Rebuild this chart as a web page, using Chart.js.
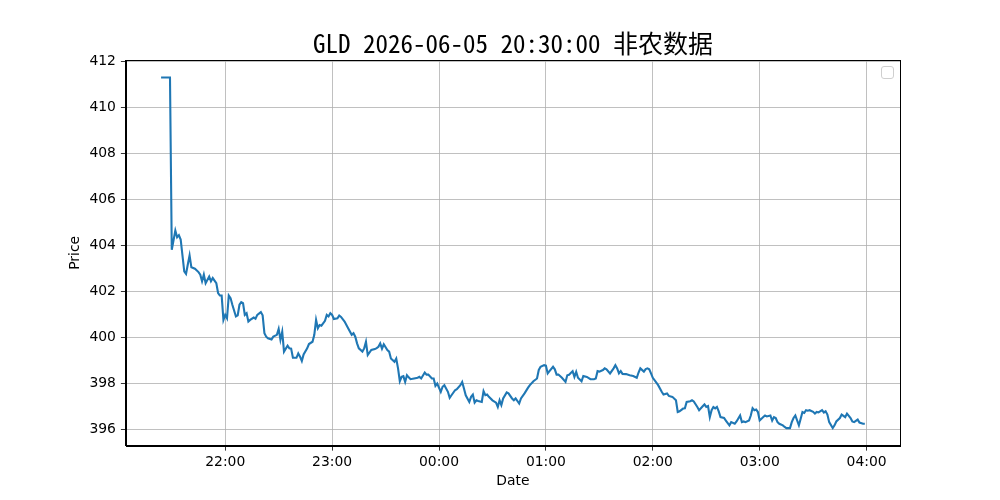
<!DOCTYPE html>
<html>
<head>
<meta charset="utf-8">
<title>GLD 非农数据</title>
<script src="https://cdn.jsdelivr.net/npm/chart.js@4.4.1/dist/chart.umd.min.js"></script>
<style>
  body { margin: 0; background: #fff; }
  #wrap { width: 1000px; height: 500px; }
</style>
</head>
<body>
<div id="wrap"><canvas id="priceChart" width="1000" height="500"></canvas></div>
<script>
const chartTitle = "GLD 2026-06-05 20:30:00 非农数据";

// minute bars (21:24 -> 03:59)
const times = [
  "21:24","21:29","21:30","21:32","21:33","21:34","21:35","21:37","21:38","21:39","21:40","21:41","21:43","21:45","21:46","21:47","21:48","21:49","21:51","21:52","21:53","21:55","21:56","21:57","21:58","21:59",
  "22:00","22:01","22:02","22:03","22:04","22:06","22:07","22:08","22:09","22:10","22:11","22:12","22:13","22:14","22:16","22:17","22:18","22:20","22:21","22:22","22:23","22:24","22:26","22:27","22:29",
  "22:30","22:31","22:32","22:33","22:35","22:36","22:37","22:38","22:40","22:41","22:42","22:43","22:44","22:46","22:47","22:49","22:50","22:51","22:52","22:53","22:54","22:56","22:57","22:58","22:59",
  "23:00","23:01","23:03","23:04","23:05","23:07","23:09","23:11","23:12","23:13","23:14","23:15","23:17","23:18","23:19","23:20","23:22","23:24","23:25","23:26","23:27","23:28","23:29",
  "23:31","23:32","23:33","23:35","23:36","23:37","23:38","23:39","23:40","23:41","23:42","23:43","23:44","23:46","23:48","23:49","23:50","23:52","23:53","23:54","23:56","23:57","23:58","23:59",
  "00:01","00:02","00:03","00:05","00:06","00:07","00:09","00:10","00:12","00:13","00:14","00:15","00:17","00:18","00:19","00:20","00:21","00:22","00:24","00:25","00:26","00:27","00:28",
  "00:30","00:32","00:33","00:34","00:35","00:36","00:38","00:39","00:41","00:42","00:43","00:45","00:46","00:48","00:50","00:51","00:53","00:55","00:56","00:57","00:59",
  "01:00","01:01","01:02","01:04","01:05","01:06","01:07","01:09","01:11","01:12","01:13","01:15","01:16","01:17","01:18","01:20","01:21","01:23","01:25","01:27","01:28","01:29",
  "01:30","01:32","01:33","01:34","01:36","01:38","01:39","01:40","01:41","01:42","01:43","01:45","01:47","01:49","01:51","01:52","01:53","01:55","01:56","01:57","01:58","01:59",
  "02:00","02:02","02:03","02:05","02:06","02:08","02:09","02:11","02:13","02:14","02:15","02:17","02:18","02:19","02:21","02:22","02:23","02:25","02:26","02:28","02:29",
  "02:30","02:31","02:32","02:33","02:34","02:35","02:36","02:37","02:38","02:40","02:41","02:43","02:44","02:46","02:47","02:49","02:50","02:51","02:52","02:54","02:55","02:56","02:57","02:58","02:59",
  "03:00","03:02","03:03","03:04","03:06","03:07","03:08","03:09","03:10","03:11","03:13","03:14","03:15","03:17","03:18","03:19","03:20","03:22","03:23","03:24","03:25","03:26","03:27","03:28",
  "03:30","03:31","03:32","03:33","03:35","03:36","03:37","03:38","03:39","03:41","03:42","03:43","03:45","03:46","03:48","03:49","03:51","03:52","03:53","03:55","03:56","03:58","03:59"
];

const prices = [
  411.3,411.3,403.8,404.64,404.35,404.44,404.25,402.86,402.75,403.16,403.56,403.04,402.98,402.83,402.72,402.43,402.72,402.35,402.64,402.43,402.57,402.35,401.92,401.81,401.81,400.75,
  400.97,400.82,401.81,401.7,401.41,400.9,400.95,401.41,401.52,401.48,400.97,401.04,400.68,400.75,400.85,400.8,400.97,401.09,400.95,400.17,400.02,399.95,399.9,400.02,400.1,
  400.36,399.88,400.24,399.37,399.63,399.51,399.5,399.1,399.1,399.29,399.15,398.96,399.25,399.51,399.7,399.8,400.1,400.75,400.39,400.53,400.5,400.71,400.97,400.9,401.04,
  400.97,400.79,400.82,400.94,400.88,400.68,400.39,400.1,400.17,400.02,399.73,399.51,399.37,399.51,399.8,399.22,399.44,399.48,399.52,399.58,399.73,399.5,399.69,
  399.44,399.37,399.07,398.93,399.07,398.64,398.08,398.27,398.3,398.05,398.34,398.25,398.17,398.2,398.23,398.27,398.2,398.46,398.37,398.37,398.2,398.2,397.88,397.98,
  397.62,397.84,397.91,397.62,397.36,397.47,397.69,397.73,397.91,398.05,397.76,397.47,397.18,397.4,397.5,397.15,397.25,397.22,397.18,397.65,397.47,397.5,397.4,
  397.25,397.15,396.96,397.25,397.04,397.33,397.59,397.55,397.33,397.25,397.33,397.11,397.33,397.55,397.8,397.91,398.08,398.2,398.57,398.71,398.78,
  398.76,398.42,398.52,398.71,398.6,398.37,398.37,398.23,398.05,398.34,398.36,398.52,398.27,398.49,398.23,398.08,398.31,398.27,398.17,398.17,398.2,398.52,
  398.5,398.57,398.64,398.6,398.42,398.64,398.78,398.64,398.42,398.52,398.4,398.39,398.34,398.31,398.23,398.46,398.64,398.5,398.61,398.64,398.6,398.42,
  398.23,398.02,397.91,397.62,397.5,397.55,397.44,397.4,397.25,396.74,396.77,396.89,396.9,397.18,397.21,397.25,397.2,396.96,396.82,396.99,397.07,
  396.96,397.0,396.52,396.82,396.96,396.9,396.96,396.77,396.52,396.48,396.37,396.16,396.3,396.23,396.33,396.59,396.3,396.33,396.3,396.37,396.59,396.91,396.82,396.85,396.74,
  396.37,396.52,396.59,396.55,396.59,396.37,396.52,396.48,396.3,396.23,396.16,396.09,396.04,396.04,396.3,396.48,396.59,396.16,396.45,396.74,396.7,396.82,396.8,396.82,
  396.75,396.67,396.74,396.72,396.82,396.72,396.77,396.63,396.3,396.04,396.16,396.33,396.48,396.63,396.52,396.67,396.48,396.33,396.3,396.41,396.28,396.23,396.23
];

// x axis works in minutes after 21:00 (session crosses midnight)
const toMinutes = s => {
  let [h, m] = s.split(":").map(Number);
  if (h < 12) h += 24;
  return (h - 21) * 60 + m;
};
const fmtMinutes = v => {
  const h = (21 + Math.floor(v / 60)) % 24;
  const m = v % 60;
  return String(h).padStart(2, "0") + ":" + String(m).padStart(2, "0");
};

const points = times.map((t, i) => ({ x: toMinutes(t), y: prices[i] }));

// matplotlib-like 5% margins
const xs = points.map(p => p.x);
const xPad = (Math.max(...xs) - Math.min(...xs)) * 0.05;
const yPad = (Math.max(...prices) - Math.min(...prices)) * 0.05;

const tickFont = { family: "'DejaVu Sans', sans-serif", size: 13.9 };

// closes the box on top/right and draws the empty legend frame
const framePlugin = {
  id: "frame",
  afterDraw(chart) {
    const { ctx, chartArea: a } = chart;
    ctx.save();
    ctx.strokeStyle = "#000";
    ctx.lineWidth = 1;
    ctx.strokeRect(Math.round(a.left) + 0.5, Math.round(a.top) + 0.5,
                   Math.round(a.right - a.left), Math.round(a.bottom - a.top));
    ctx.strokeStyle = "#cfcfcf";
    ctx.fillStyle = "rgba(255,255,255,0.8)";
    ctx.beginPath();
    ctx.roundRect(a.right - 18.5, a.top + 6.5, 12, 12, 2.5);
    ctx.fill();
    ctx.stroke();
    ctx.restore();
  }
};

const ctx = document.getElementById("priceChart").getContext("2d");
const priceChart = new Chart(ctx, {
  type: "line",
  data: {
    datasets: [{
      label: "GLD",
      data: points,
      borderColor: "#1f77b4",
      borderWidth: 2.1,
      pointRadius: 0,
      tension: 0,
      fill: false
    }]
  },
  options: {
    responsive: false,
    animation: false,
    layout: { padding: { left: 66.7, right: 100, top: 0, bottom: 10 } },
    plugins: {
      legend: { display: false },
      tooltip: { enabled: false },
      title: {
        display: true,
        fullSize: false, // centre over the plot area like matplotlib
        text: chartTitle,
        color: "#000",
        font: { family: "'Noto Sans Mono CJK SC', 'DejaVu Sans Mono', 'Noto Sans CJK SC', monospace", size: 25, weight: "normal" },
        padding: { top: 28, bottom: 2 }
      }
    },
    scales: {
      x: {
        type: "linear",
        min: Math.min(...xs) - xPad,
        max: Math.max(...xs) + xPad,
        afterBuildTicks: scale => {
          const ticks = [];
          for (let v = Math.ceil(scale.min / 60) * 60; v <= scale.max; v += 60) ticks.push({ value: v });
          scale.ticks = ticks;
        },
        ticks: { color: "#000", font: tickFont, padding: 3, maxRotation: 0, callback: v => fmtMinutes(v) },
        grid: { color: "#b0b0b0", lineWidth: 0.8, tickColor: "#000", tickLength: 5 },
        border: { color: "#000", width: 1 },
        title: { display: true, text: "Date", color: "#000", font: tickFont, padding: { top: 0, bottom: 0 } }
      },
      y: {
        min: Math.min(...prices) - yPad,
        max: Math.max(...prices) + yPad,
        afterBuildTicks: scale => {
          const ticks = [];
          for (let v = Math.ceil(scale.min / 2) * 2; v <= scale.max; v += 2) ticks.push({ value: v });
          scale.ticks = ticks;
        },
        ticks: { color: "#000", font: tickFont, padding: 5 },
        grid: { color: "#b0b0b0", lineWidth: 0.8, tickColor: "#000", tickLength: 5 },
        border: { color: "#000", width: 1 },
        title: { display: true, text: "Price", color: "#000", font: tickFont, padding: { top: 0, bottom: 1 } }
      }
    }
  },
  plugins: [framePlugin]
});
</script>
</body>
</html>
